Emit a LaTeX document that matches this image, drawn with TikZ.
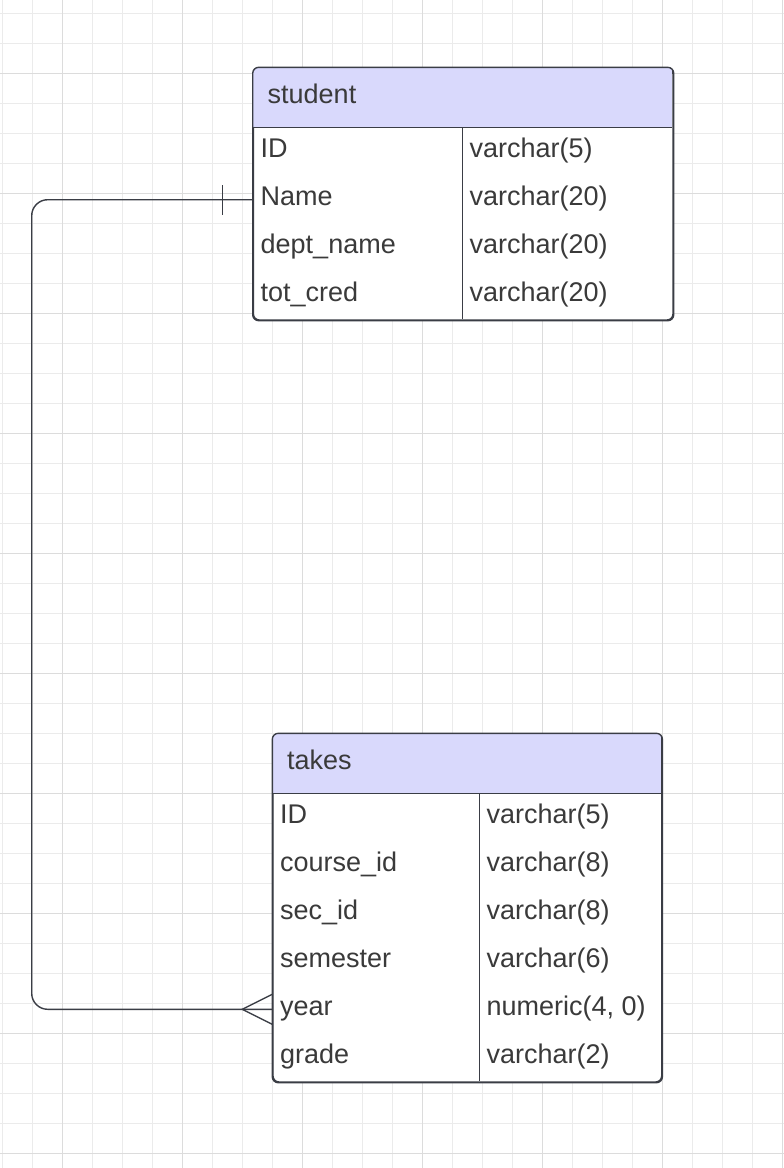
\documentclass[tikz,border=0pt]{standalone}
\usepackage{fontspec}
\setmainfont{Liberation Sans}
\definecolor{gridminor}{RGB}{235,235,235}
\definecolor{gridmajor}{RGB}{220,220,220}
\definecolor{hdrfill}{RGB}{217,217,252}
\definecolor{edge}{RGB}{58,61,69}
\definecolor{txt}{RGB}{58,58,58}
\tikzset{
  tablebox/.style={draw=edge, line width=1.4pt, fill=white, rounded corners=6pt, inner sep=0pt, anchor=north west},
  celltext/.style={anchor=west, inner sep=0pt, text height=17pt, text depth=5pt, text=txt, font=\fontsize{27}{31}\selectfont},
  sepline/.style={draw=edge, line width=1.4pt},
  conn/.style={draw=edge, line width=1.4pt, rounded corners=16pt},
  endmark/.style={draw=edge, line width=1.4pt},
}
\begin{document}
\begin{tikzpicture}[x=1pt,y=-1pt]
\useasboundingbox (0,0) rectangle (784,1168);
\fill[white] (0,0) rectangle (784,1168);
% grid
\foreach \i in {0,...,26} \draw[gridminor, line width=1pt] (2.7+30*\i,0) -- (2.7+30*\i,1168);
\foreach \i in {0,...,38} \draw[gridminor, line width=1pt] (0,13.3+30*\i) -- (784,13.3+30*\i);
\foreach \i in {0,...,6} \draw[gridmajor, line width=1pt] (62.7+120*\i,0) -- (62.7+120*\i,1168);
\foreach \i in {0,...,9} \draw[gridmajor, line width=1pt] (0,73.3+120*\i) -- (784,73.3+120*\i);

% ---------- student ----------
\node[tablebox, minimum width=419.6pt, minimum height=252pt] (student) at (252.7,67.3) {};
\begin{scope}
  \clip[rounded corners=6pt] (student.north west) rectangle (student.south east);
  \fill[hdrfill] (student.north west) rectangle (672.3,127.7);
\end{scope}
\draw[sepline] (252.7,127.7) -- (672.3,127.7);
\draw[sepline] (462.7,127.7) -- (462.7,319.3);
\draw[draw=edge, line width=1.4pt, rounded corners=6pt] (student.north west) rectangle (student.south east);
\node[celltext] (sHead) at (267.5,97.5) {student};
\node[celltext] (sID) at (260.5,151.7) {ID};
\node[celltext] (sName) at (260.5,199.7) {Name};
\node[celltext] (sDept) at (260.5,247.7) {dept\_name};
\node[celltext] (sCred) at (260.5,295.7) {tot\_cred};
\node[celltext] (sIDt) at (469.5,151.7) {varchar(5)};
\node[celltext] (sNamet) at (469.5,199.7) {varchar(20)};
\node[celltext] (sDeptt) at (469.5,247.7) {varchar(20)};
\node[celltext] (sCredt) at (469.5,295.7) {varchar(20)};

% ---------- takes ----------
\node[tablebox, minimum width=388.7pt, minimum height=348pt] (takes) at (272.3,733.3) {};
\begin{scope}
  \clip[rounded corners=6pt] (takes.north west) rectangle (takes.south east);
  \fill[hdrfill] (takes.north west) rectangle (661,793.3);
\end{scope}
\draw[sepline] (272.3,793.3) -- (661,793.3);
\draw[sepline] (479.3,793.3) -- (479.3,1081.3);
\draw[draw=edge, line width=1.4pt, rounded corners=6pt] (takes.north west) rectangle (takes.south east);
\node[celltext] (tHead) at (287,763.3) {takes};
\node[celltext] (tID) at (280,817.3) {ID};
\node[celltext] (tCourse) at (280,865.3) {course\_id};
\node[celltext] (tSec) at (280,913.3) {sec\_id};
\node[celltext] (tSem) at (280,961.3) {semester};
\node[celltext] (tYear) at (280,1009.3) {year};
\node[celltext] (tGrade) at (280,1057.3) {grade};
\node[celltext] (tIDt) at (486.5,817.3) {varchar(5)};
\node[celltext] (tCourset) at (486.5,865.3) {varchar(8)};
\node[celltext] (tSect) at (486.5,913.3) {varchar(8)};
\node[celltext] (tSemt) at (486.5,961.3) {varchar(6)};
\node[celltext] (tYeart) at (486.5,1009.3) {numeric(4, 0)};
\node[celltext] (tGradet) at (486.5,1057.3) {varchar(2)};

% ---------- connector ----------
\coordinate (sE) at (student.west |- sName.west);
\coordinate (tE) at (takes.west |- tYear.west);
\coordinate (lane) at (31.7,600);
\draw[conn] (sE) -- (sE -| lane) -- (tE -| lane) -- (tE);
% one-mark at student
\draw[endmark] ([xshift=-30pt,yshift=-15pt]sE) -- ([xshift=-30pt,yshift=15pt]sE);
% crow's foot at takes
\draw[endmark] ([yshift=-15pt]tE) -- ([xshift=-30pt]tE) -- ([yshift=15pt]tE);
\end{tikzpicture}
\end{document}
